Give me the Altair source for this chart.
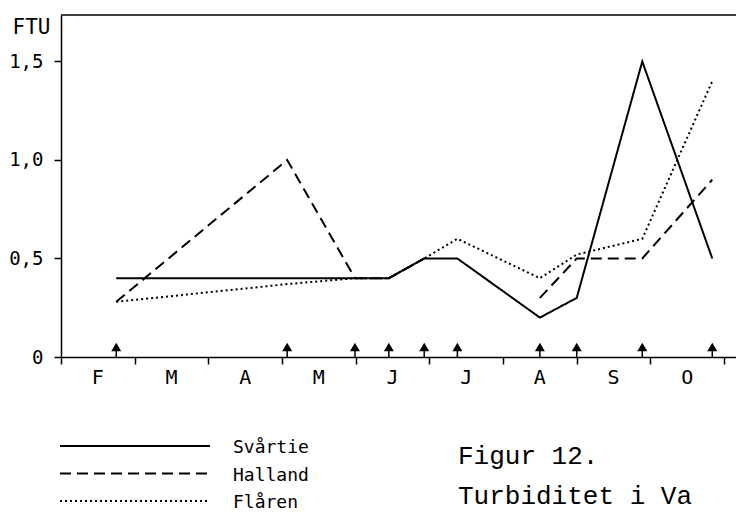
import altair as alt
import pandas as pd

# ---- data ----
series = ["Svårtie", "Halland", "Flåren"]
months = ["F", "M", "A", "M", "J", "J", "A", "S", "O"]
# sampling dates as month position (0 = start of February)
sample_pos = [0.75, 3.07, 3.99, 4.45, 4.93, 5.38, 6.50, 7.00, 7.89, 8.84]
svartie = [0.4, 0.4, 0.4, 0.4, 0.5, 0.5, 0.2, 0.3, 1.5, 0.5]
halland = [0.28, 1.0, 0.4, 0.4, 0.5, None, 0.3, 0.5, 0.5, 0.9]
flaren = [0.28, 0.37, 0.4, 0.4, 0.5, 0.6, 0.4, 0.52, 0.6, 1.4]
y_ticks = [0, 0.5, 1.0, 1.5]
y_unit = "FTU"
fig_title = "Figur 12."
fig_caption = "Turbiditet i Va"

W, H = 675, 342
X_MAX = 9.162
Y_MAX = 1.736
SANS = "DejaVu Sans Mono"
MONO = "Liberation Mono"
DASHES = [[1, 0], [11, 6], [2, 3]]

rows = []
for name, vals in zip(series, [svartie, halland, flaren]):
    for p, v in zip(sample_pos, vals):
        rows.append({"serie": name, "pos": p, "ftu": v})
df = pd.DataFrame(rows)

month_df = pd.DataFrame({"mon": months, "mid": [i + 0.5 for i in range(len(months))]})

x_scale = alt.Scale(domain=[0, X_MAX], nice=False, zero=False)
y_scale = alt.Scale(domain=[0, Y_MAX], nice=False)
dash_scale = alt.Scale(domain=series, range=DASHES)

x_axis = alt.Axis(
    values=list(range(0, 10)),
    labels=False,
    title=None,
    grid=False,
    tickSize=7,
    tickWidth=1.5,
    tickColor="black",
    domainColor="black",
    domainWidth=1.5,
)

y_axis = alt.Axis(
    values=y_ticks,
    labelExpr="datum.value == 0 ? '0' : replace(format(datum.value, '.1f'), '.', ',')",
    title=y_unit,
    titleAngle=0,
    titleX=-49,
    titleY=18,
    titleAlign="left",
    titleBaseline="alphabetic",
    titleFont=SANS,
    titleFontSize=21,
    titleFontWeight="normal",
    titleColor="black",
    grid=False,
    tickSize=7,
    tickWidth=1.5,
    tickColor="black",
    domainColor="black",
    domainWidth=1.5,
    labelFont=SANS,
    labelFontSize=19,
    labelColor="black",
    labelPadding=11,
)

lines = alt.Chart(df).mark_line(color="black", strokeWidth=2).encode(
    x=alt.X("pos:Q", scale=x_scale, axis=x_axis),
    y=alt.Y("ftu:Q", scale=y_scale, axis=y_axis),
    strokeDash=alt.StrokeDash("serie:N", scale=dash_scale, legend=None),
)

month_labels = alt.Chart(month_df).mark_text(
    font=SANS, fontSize=20, align="center", baseline="middle", color="black"
).encode(
    x=alt.X("mid:Q", scale=x_scale),
    y=alt.value(H + 21),
    text="mon:N",
)

arrows_df = pd.DataFrame({"pos": sample_pos})
stems = alt.Chart(arrows_df).mark_rule(color="black", strokeWidth=1.5).encode(
    x=alt.X("pos:Q", scale=x_scale),
    y=alt.value(H),
    y2=alt.value(H - 10),
)
heads = alt.Chart(arrows_df).mark_point(
    shape="triangle-up", filled=True, size=100, color="black", opacity=1
).encode(
    x=alt.X("pos:Q", scale=x_scale),
    y=alt.value(H - 10),
)

frame_df = pd.DataFrame({"k": [0]})
top_border = alt.Chart(frame_df).mark_rule(color="black", strokeWidth=1.5).encode(
    x=alt.value(0), x2=alt.value(W), y=alt.value(0)
)

# custom legend (below the plot)
leg_df = pd.DataFrame({"serie": series})
leg_y = alt.Y(
    "serie:N",
    scale=alt.Scale(type="point", domain=series, range=[431, 486], padding=0),
    axis=None,
)
leg_lines = alt.Chart(leg_df).mark_rule(color="black", strokeWidth=2).encode(
    x=alt.value(-1),
    x2=alt.value(149),
    y=leg_y,
    strokeDash=alt.StrokeDash("serie:N", scale=dash_scale, legend=None),
)
leg_labels = alt.Chart(leg_df).mark_text(
    font=SANS, fontSize=18, align="left", baseline="middle", color="black", dy=2
).encode(x=alt.value(172), y=leg_y, text="serie:N")

title_txt = alt.Chart(frame_df).mark_text(
    text=fig_title, font=MONO, fontSize=26, align="left", baseline="alphabetic", color="black"
).encode(x=alt.value(397), y=alt.value(449))
caption_txt = alt.Chart(frame_df).mark_text(
    text=fig_caption, font=MONO, fontSize=26, align="left", baseline="alphabetic", color="black"
).encode(x=alt.value(397), y=alt.value(489))

chart = (
    alt.layer(lines, month_labels, stems, heads, top_border, leg_lines, leg_labels,
              title_txt, caption_txt)
    .resolve_scale(y="independent")
    .properties(
        width=W,
        height=H,
        autosize=alt.AutoSizeParams(type="none"),
        padding={"left": 53, "top": 7, "right": 0, "bottom": 157},
        background="white",
    )
    .configure_view(stroke=None)
)

chart.save("out.html", embed_options={"renderer": "svg", "actions": False})
